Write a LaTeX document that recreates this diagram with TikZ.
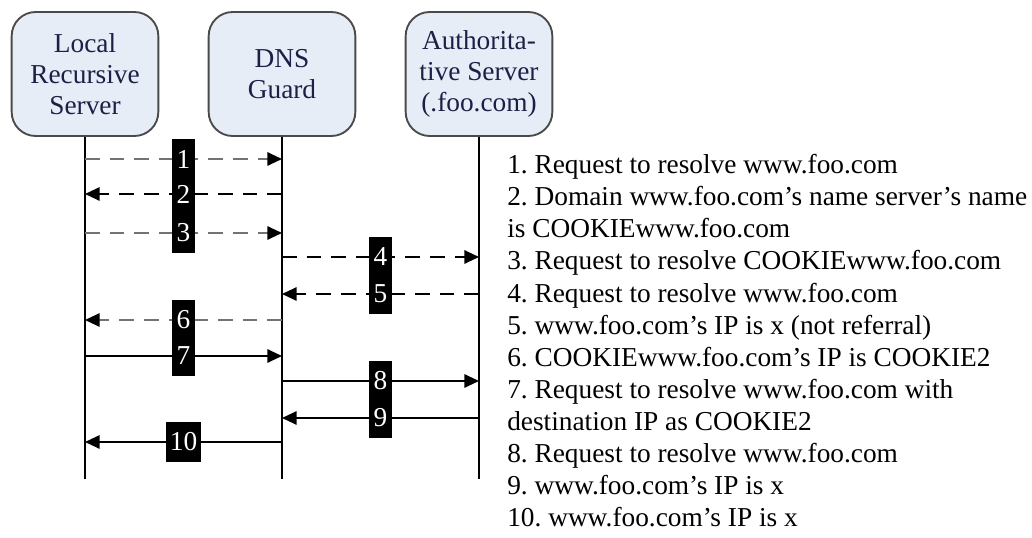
\documentclass[tikz,border=0pt]{standalone}
\usepackage{fontspec}
\setmainfont{Liberation Serif}
\usetikzlibrary{arrows.meta}

\definecolor{boxfill}{HTML}{E7EDF6}
\definecolor{boxline}{HTML}{4A4A4A}
\definecolor{boxtext}{HTML}{1E1E46}

\begin{document}
\frenchspacing
\begin{tikzpicture}[x=0.75pt,y=-0.75pt,
  actor/.style={draw=boxline, line width=1.4pt, fill=boxfill, rounded corners=18pt,
    minimum width=110pt, minimum height=93pt, align=center, text=boxtext,
    font=\fontsize{20.5}{23.5}\selectfont},
  lifeline/.style={line width=1.5pt},
  msg/.style={line width=1.5pt, -{Triangle[length=11pt,width=10pt,color=black]}},
  dashmsg/.style={msg, dash pattern=on 11pt off 7.5pt},
  faint/.style={draw=black!55},
  tag/.style={fill=black, text=white, inner xsep=3.2pt, inner ysep=0pt,
    minimum width=17pt, minimum height=30pt, midway,
    font=\fontsize{20.5}{24}\selectfont},
  legend/.style={anchor=north west, align=left, inner sep=0pt,
    font=\fontsize{20.5}{24.1}\selectfont}]

\useasboundingbox (0,0) rectangle (1032,538);

% participants
\node[actor] (local) at (85,74)  {Local\\Recursive\\Server};
\node[actor] (dns)   at (282,74) {DNS\\Guard};
\node[actor] (auth)  at (479,74) {Authorita-\\tive Server\\(.foo.com)};

% lifelines
\coordinate (localEnd) at (85,479);
\coordinate (dnsEnd)   at (282,479);
\coordinate (authEnd)  at (479,479);
\draw[lifeline] (local) -- (localEnd);
\draw[lifeline] (dns)   -- (dnsEnd);
\draw[lifeline] (auth)  -- (authEnd);

% first exchange (dashed)
\draw[dashmsg,faint] (local |- 0,159) -- node[tag] {1} (dns |- 0,159);
\draw[dashmsg]       (dns |- 0,194)   -- node[tag] {2} (local |- 0,194);
\draw[dashmsg,faint] (local |- 0,233) -- node[tag] {3} (dns |- 0,233);
\draw[dashmsg]       (dns |- 0,257)   -- node[tag] {4} (auth |- 0,257);
\draw[dashmsg]       (auth |- 0,294)  -- node[tag] {5} (dns |- 0,294);
\draw[dashmsg,faint] (dns |- 0,320)   -- node[tag] {6} (local |- 0,320);

% second exchange (solid)
\draw[msg] (local |- 0,356) -- node[tag] {7} (dns |- 0,356);
\draw[msg] (dns |- 0,381)   -- node[tag] {8} (auth |- 0,381);
\draw[msg] (auth |- 0,418)  -- node[tag] {9} (dns |- 0,418);
\draw[msg] (dns |- 0,442)   -- node[tag] {10} (local |- 0,442);

% step descriptions
\node[legend] (steps) at (507,154) {%
1. Request to resolve www.foo.com\\
2. Domain www.foo.com's name server's name\\
is COOKIEwww.foo.com\\
3. Request to resolve COOKIEwww.foo.com\\
4. Request to resolve www.foo.com\\
5. www.foo.com's IP is x (not referral)\\
6. COOKIEwww.foo.com's IP is COOKIE2\\
7. Request to resolve www.foo.com with\\
destination IP as COOKIE2\\
8. Request to resolve www.foo.com\\
9. www.foo.com's IP is x\\
10. www.foo.com's IP is x};

\end{tikzpicture}
\end{document}
